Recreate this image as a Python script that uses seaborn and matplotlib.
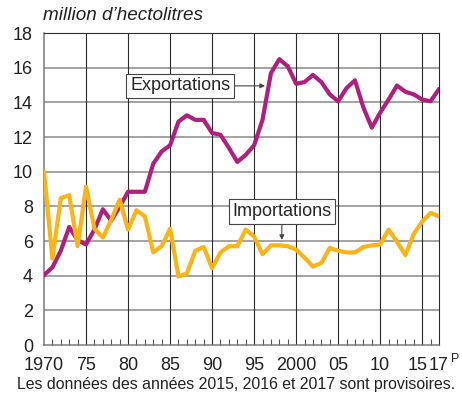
import pandas as pd
import matplotlib.pyplot as plt
import matplotlib.transforms as mtransforms
from matplotlib.ticker import MultipleLocator
import seaborn as sns

# Années et volumes (millions d'hectolitres)
annees = list(range(1970, 2018))
exportations = [4.03, 4.48, 5.44, 6.81, 6.05, 5.8, 6.66, 7.83, 7.17, 7.98,
                8.84, 8.84, 8.84, 10.46, 11.17, 11.52, 12.89, 13.25, 12.99, 12.99,
                12.23, 12.13, 11.37, 10.56, 10.97, 11.52, 12.99, 15.68, 16.49, 16.08,
                15.07, 15.17, 15.58, 15.17, 14.46, 14.06, 14.82, 15.27, 13.7, 12.54,
                13.4, 14.16, 14.97, 14.61, 14.46, 14.16, 14.06, 14.77]
importations = [10.0, 4.99, 8.48, 8.64, 5.7, 9.14, 6.71, 6.2, 7.22, 8.38,
                6.66, 7.78, 7.42, 5.34, 5.7, 6.71, 3.95, 4.13, 5.44, 5.65,
                4.43, 5.34, 5.7, 5.7, 6.66, 6.26, 5.24, 5.75, 5.75, 5.7,
                5.5, 5.04, 4.53, 4.73, 5.6, 5.44, 5.34, 5.34, 5.65, 5.75,
                5.8, 6.66, 5.95, 5.19, 6.41, 7.12, 7.62, 7.42]
tick_annees = [1970, 1975, 1980, 1985, 1990, 1995, 2000, 2005, 2010, 2015, 2017]
tick_labels = ["1970", "75", "80", "85", "90", "95", "2000", "05", "10", "15", "17"]

df = pd.DataFrame({"annee": annees * 2,
                   "valeur": exportations + importations,
                   "serie": ["Exportations"] * len(annees) + ["Importations"] * len(annees)})

sns.set_style("white")
plt.rcParams["font.family"] = ["Liberation Sans", "DejaVu Sans"]

fig = plt.figure(figsize=(4.62, 4.03), dpi=100)
ax = fig.add_axes([44 / 462, 1 - 345 / 403, 395 / 462, 312 / 403])

sns.lineplot(data=df, x="annee", y="valeur", hue="serie",
             palette={"Exportations": "#b01f7e", "Importations": "#fbb415"},
             linewidth=3.0, legend=False, ax=ax, zorder=3)

ax.set_xlim(1970, 2017)
ax.set_ylim(0, 18)
ax.set_xticks(tick_annees)
ax.set_xticklabels(tick_labels)
ax.set_yticks(range(0, 19, 2))
ax.xaxis.set_minor_locator(MultipleLocator(1))
ax.set_xlabel("")
ax.set_ylabel("")

# quadrillage : horizontales grises, verticales foncées
ax.grid(False)
for y in range(2, 18, 2):
    ax.axhline(y, color="#8a8a8a", lw=1.1, zorder=1)
for x in tick_annees[1:-1]:
    ax.axvline(x, color="#2b2b2b", lw=0.8, zorder=1)

for s in ["top", "right"]:
    ax.spines[s].set_color("#2b2b2b")
    ax.spines[s].set_linewidth(0.8)
for s in ["left", "bottom"]:
    ax.spines[s].set_color("#7a7a7a")
    ax.spines[s].set_linewidth(1.1)

ax.tick_params(axis="both", which="major", length=0, labelsize=13, colors="#222222")
ax.tick_params(axis="y", pad=8)
ax.tick_params(axis="x", pad=9)
ax.tick_params(axis="x", which="minor", direction="in", length=4.5, width=0.8,
               color="#555555", bottom=True)

# décaler "15" vers la gauche pour laisser la place à "17"
for lab in ax.get_xticklabels():
    if lab.get_text() == "15":
        lab.set_transform(lab.get_transform() +
                          mtransforms.ScaledTranslation(-5 / 100, 0, fig.dpi_scale_trans))

ax.annotate("P", xy=(2017, 0), xycoords="data", xytext=(8.5, -10),
            textcoords="offset points", fontsize=9, color="#222222",
            ha="left", va="center", annotation_clip=False)

box = dict(boxstyle="square,pad=0.2", fc="white", ec="#444444", lw=0.8)
ax.annotate("Exportations", xy=(1996.3, 14.95), xytext=(1986.2, 14.95),
            fontsize=13, ha="center", va="center", bbox=box, zorder=5,
            arrowprops=dict(arrowstyle="-|>", color="#444444", lw=0.8,
                            mutation_scale=7, shrinkA=0, shrinkB=0))
ax.annotate("Importations", xy=(1998.3, 6.06), xytext=(1998.3, 7.7),
            fontsize=13, ha="center", va="center", bbox=box, zorder=5,
            arrowprops=dict(arrowstyle="-|>", color="#444444", lw=0.8,
                            mutation_scale=7, shrinkA=0, shrinkB=0))

fig.text(43 / 462, 1 - 15 / 403, "million d’hectolitres", fontsize=13.6,
         style="italic", color="#222222", ha="left", va="center")
fig.text(236 / 462, 1 - 384 / 403,
         "Les données des années 2015, 2016 et 2017 sont provisoires.",
         fontsize=11.4, color="#222222", ha="center", va="center")

fig.savefig("out.png", dpi=100)
